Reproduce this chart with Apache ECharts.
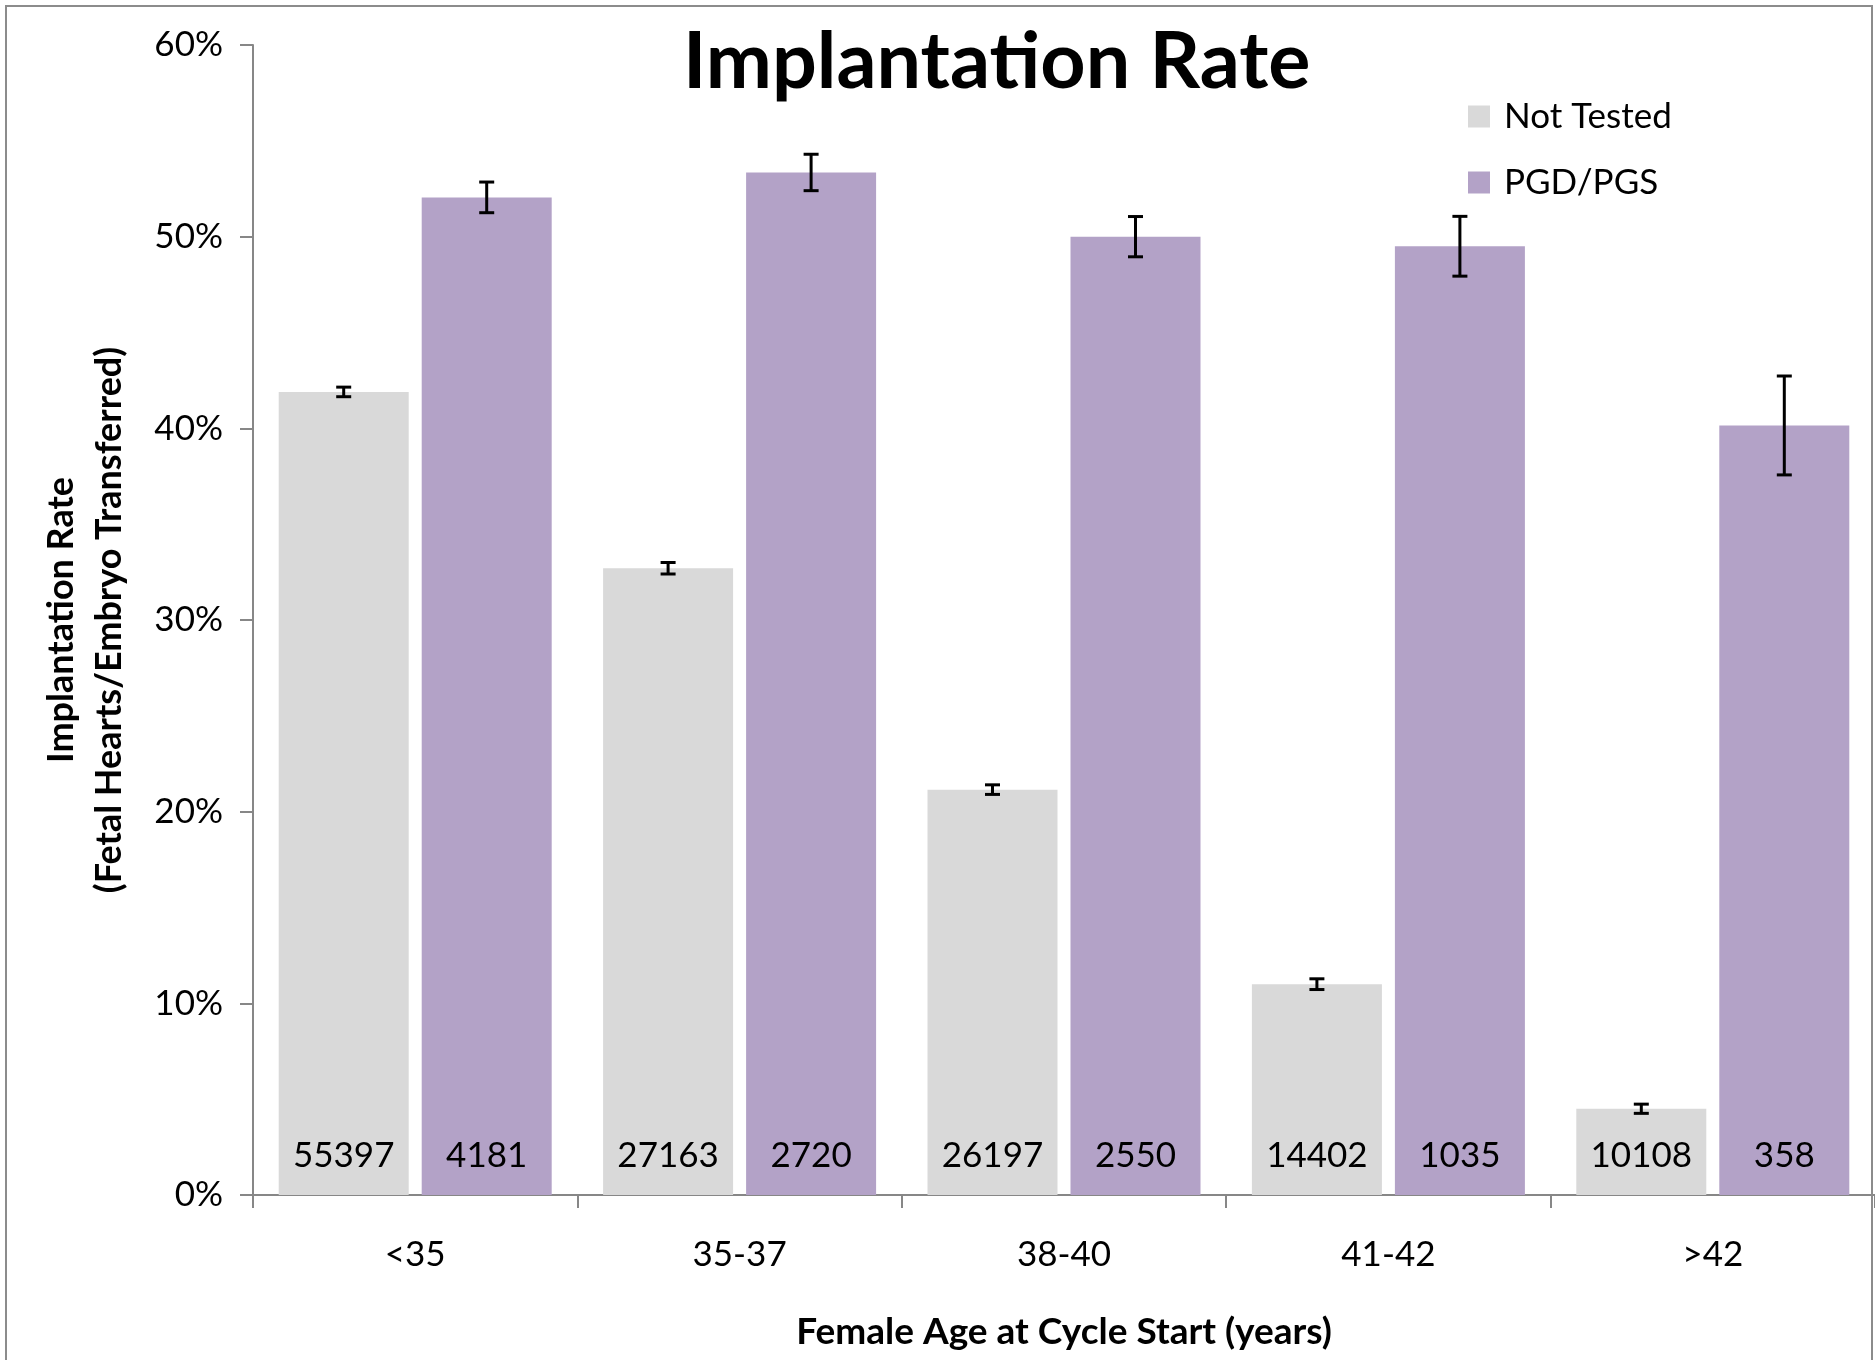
<!DOCTYPE html>
<html>
<head>
<meta charset="utf-8">
<script src="https://cdn.jsdelivr.net/npm/echarts@6/dist/echarts.min.js"></script>
<style>
html,body{margin:0;padding:0;background:#fff;}
#chart{width:1875px;height:1360px;}
</style>
</head>
<body>
<div id="chart"></div>
<script>
// ---- data ----
var categories = ['<35', '35-37', '38-40', '41-42', '>42'];
var notTested = [41.9, 32.7, 21.15, 11.0, 4.5];
var notTestedErr = [0.25, 0.3, 0.25, 0.28, 0.24];
var pgd = [52.05, 53.35, 50.0, 49.5, 40.15];
var pgdErr = [0.8, 0.95, 1.05, 1.56, 2.58];
var notTestedN = [55397, 27163, 26197, 14402, 10108];
var pgdN = [4181, 2720, 2550, 1035, 358];
var yTicks = [0, 10, 20, 30, 40, 50, 60];

// ---- style ----
var FONT = 'Lato';
var BAR_W = 130;
var BAR_GAP = 13;
var OFF = (BAR_W + BAR_GAP) / 2;
var GREY = '#D9D9D9';
var PURPLE = '#B3A2C7';
var AXIS = '#878787';

function errData(vals, errs) {
  return vals.map(function (v, i) { return [i, v, errs[i]]; });
}
function errRender(offset) {
  return function (params, api) {
    var i = api.value(0), v = api.value(1), e = api.value(2);
    var hi = api.coord([i, v + e]);
    var lo = api.coord([i, v - e]);
    var x = hi[0] + offset;
    var cap = 7.5;
    var st = { stroke: '#000', lineWidth: 3 };
    return {
      type: 'group',
      children: [
        { type: 'line', shape: { x1: x, y1: hi[1], x2: x, y2: lo[1] }, style: st },
        { type: 'line', shape: { x1: x - cap, y1: hi[1], x2: x + cap, y2: hi[1] }, style: st },
        { type: 'line', shape: { x1: x - cap, y1: lo[1], x2: x + cap, y2: lo[1] }, style: st }
      ]
    };
  };
}
function countLabel(arr) {
  return {
    show: true, position: 'insideBottom', distance: 22,
    fontFamily: FONT, fontSize: 35, color: '#000',
    formatter: function (p) { return String(arr[p.dataIndex]); }
  };
}

var chart = echarts.init(document.getElementById('chart'), null, { renderer: 'canvas' });
chart.setOption({
  animation: false,
  backgroundColor: '#fff',
  title: {
    text: 'Implantation Rate',
    left: 678, top: 18,
    textStyle: { fontFamily: FONT, fontWeight: 'bold', fontSize: 79, color: '#000' }
  },
  legend: {
    data: ['Not Tested', 'PGD/PGS'],
    orient: 'vertical',
    left: 1463, top: 94,
    itemWidth: 22, itemHeight: 22, itemGap: 31,
    icon: 'rect',
    textStyle: { fontFamily: FONT, fontSize: 35, color: '#000', padding: [0, 0, 0, 9], lineHeight: 35 }
  },
  grid: { left: 253, right: 0, top: 45, bottom: 165, containLabel: false },
  xAxis: {
    type: 'category',
    data: categories,
    axisLine: { lineStyle: { color: AXIS, width: 2 } },
    axisTick: { show: true, length: 13, lineStyle: { color: AXIS, width: 2 } },
    axisLabel: { fontFamily: FONT, fontSize: 35, color: '#000', margin: 42 },
    name: 'Female Age at Cycle Start (years)',
    nameLocation: 'middle', nameGap: 119,
    nameTextStyle: { fontFamily: FONT, fontWeight: 'bold', fontSize: 37, color: '#000' }
  },
  yAxis: {
    type: 'value',
    min: yTicks[0], max: yTicks[yTicks.length - 1], interval: 10,
    splitLine: { show: false },
    axisLine: { show: true, lineStyle: { color: AXIS, width: 2 } },
    axisTick: { show: true, length: 13, lineStyle: { color: AXIS, width: 2 } },
    axisLabel: { fontFamily: FONT, fontSize: 35, color: '#000', margin: 30, formatter: '{value}%' },
    name: 'Implantation Rate\n(Fetal Hearts/Embryo Transferred)',
    nameLocation: 'middle', nameGap: 120,
    nameTextStyle: { fontFamily: FONT, fontWeight: 'bold', fontSize: 36, color: '#000', lineHeight: 48 }
  },
  graphic: [{
    type: 'rect', z: 100, silent: true,
    shape: { x: 6, y: 6, width: 1866, height: 1400 },
    style: { fill: null, stroke: '#8c8c8c', lineWidth: 2 }
  }],
  series: [
    {
      name: 'Not Tested', type: 'bar', data: notTested,
      barWidth: BAR_W, barGap: (BAR_GAP / BAR_W * 100) + '%',
      itemStyle: { color: GREY },
      label: countLabel(notTestedN)
    },
    {
      name: 'PGD/PGS', type: 'bar', data: pgd,
      barWidth: BAR_W,
      itemStyle: { color: PURPLE },
      label: countLabel(pgdN)
    },
    {
      name: 'errNT', type: 'custom', z: 10,
      data: errData(notTested, notTestedErr),
      renderItem: errRender(-OFF)
    },
    {
      name: 'errPGD', type: 'custom', z: 10,
      data: errData(pgd, pgdErr),
      renderItem: errRender(OFF)
    }
  ]
});
</script>
</body>
</html>
